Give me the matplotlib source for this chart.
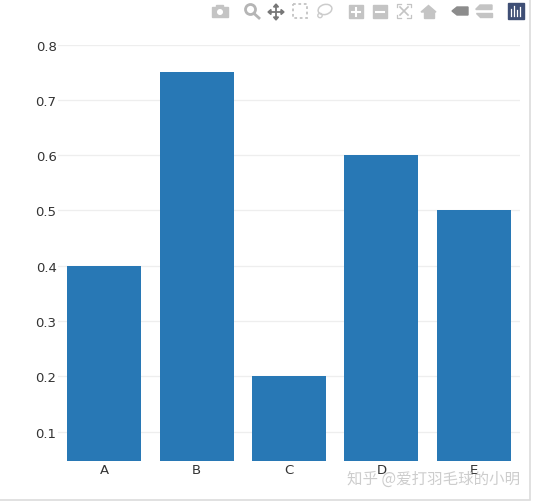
import matplotlib
matplotlib.use("Agg")
import matplotlib.pyplot as plt
from matplotlib.patches import Rectangle, Circle, Polygon, Ellipse
from matplotlib.lines import Line2D

categories = ["A", "B", "C", "D", "E"]
values = [0.4, 0.75, 0.2, 0.6, 0.5]
yticks = [0.1, 0.2, 0.3, 0.4, 0.5, 0.6, 0.7, 0.8]

W, H = 533, 502
plt.rcParams['font.family'] = ['Noto Sans CJK SC', 'DejaVu Sans']
fig = plt.figure(figsize=(W / 100, H / 100), dpi=100)
ax = fig.add_axes([58 / W, 1 - 461.6 / H, (520 - 58) / W, (461.6 - 45.6) / H])
ax.bar(categories, values, width=0.8, color="#2878b5", zorder=2)
ax.set_xlim(-0.5, 4.5)
ax.set_ylim(0.0476, 0.8)
ax.set_yticks(yticks)
ax.set_yticklabels([f"{v:.1f}" for v in yticks], family="DejaVu Sans", fontsize=9.5, color="#333333")
ax.set_xticks(range(len(categories)))
ax.set_xticklabels(categories, family="DejaVu Sans", fontsize=9.5, color="#333333")
ax.tick_params(axis="both", length=0)
ax.tick_params(axis="y", pad=1)
ax.tick_params(axis="x", pad=2)
ax.grid(axis="y", color="#eeeeee", linewidth=0.9, zorder=0)
for s in ax.spines.values():
    s.set_visible(False)

# screen-pixel overlay for the page furniture (toolbar, frame)
ov = fig.add_axes([0, 0, 1, 1], facecolor="none")
ov.set_xlim(0, W)
ov.set_ylim(H, 0)
ov.axis("off")
G = "#c4c4c4"
# frame
ov.add_line(Line2D([530, 530], [0, 500], color="#dcdcdc", lw=1.2))
ov.add_line(Line2D([0, 530], [500.5, 500.5], color="#dcdcdc", lw=1.2))
# camera
ov.add_patch(Rectangle((212, 8), 16, 10, color=G))
ov.add_patch(Rectangle((216, 6), 7, 3, color=G))
ov.add_patch(Circle((220, 13), 3, fc="white", ec="none"))
# zoom
ov.add_patch(Circle((250.5, 10.5), 5, fc="none", ec="#b5b5b5", lw=2))
ov.add_line(Line2D([254, 259], [14.5, 19], color="#b5b5b5", lw=2))
# pan
ov.add_line(Line2D([269, 283], [13, 13], color="#777777", lw=1.3))
ov.add_line(Line2D([276, 276], [6, 20], color="#777777", lw=1.3))
for p in ([[268, 13], [271, 10.5], [271, 15.5]], [[284, 13], [281, 10.5], [281, 15.5]],
          [[276, 5], [273.5, 8], [278.5, 8]], [[276, 21], [273.5, 18], [278.5, 18]]):
    ov.add_patch(Polygon(p, color="#777777"))
# box select / lasso
ov.add_patch(Rectangle((293, 5), 14, 14, fc="none", ec="#c4c4c4", lw=1.3, ls=(0, (1.5, 1.5))))
ov.add_patch(Ellipse((325, 10.5), 14, 10, angle=-15, fc="none", ec="#cccccc", lw=1.1))
ov.add_patch(Circle((320, 16.5), 2.2, fc="none", ec="#cccccc", lw=1))
# zoom in / out
ov.add_patch(Rectangle((349, 6), 14, 13, color=G))
ov.add_line(Line2D([352, 360], [12.5, 12.5], color="white", lw=1.5))
ov.add_line(Line2D([356, 356], [8.5, 16.5], color="white", lw=1.5))
ov.add_patch(Rectangle((373, 6), 14, 13, color=G))
ov.add_line(Line2D([376, 384], [12.5, 12.5], color="white", lw=1.5))
# autoscale: four corner brackets and an X
for pts in ([[397, 397, 401], [8, 5, 5]], [[407, 411, 411], [5, 5, 8]],
            [[397, 397, 401], [16, 19, 19]], [[407, 411, 411], [19, 19, 16]]):
    ov.add_line(Line2D(pts[0], pts[1], color="#c4c4c4", lw=0.9))
ov.add_line(Line2D([400, 408], [8, 16], color="#c4c4c4", lw=1.2))
ov.add_line(Line2D([400, 408], [16, 8], color="#c4c4c4", lw=1.2))
# home
ov.add_patch(Polygon([[421, 13], [428.5, 6.5], [436, 13]], color=G))
ov.add_patch(Rectangle((423.5, 13), 10, 5.5, color=G))
# spike / hover
ov.add_patch(Polygon([[452, 12], [457, 8], [468, 8], [468, 16], [457, 16]], color="#8c8c8c"))
ov.add_patch(Polygon([[476, 10], [480, 6], [492, 6], [492, 10.5], [476, 10.5]], color=G))
ov.add_patch(Polygon([[476, 14], [492, 14], [492, 18], [480, 18], [476, 14]], color=G))
# logo
ov.add_patch(Rectangle((508, 4), 16, 16, color="#3f4f75"))
for x, h in zip([511, 514, 517, 520], [7, 10, 6, 9]):
    ov.add_line(Line2D([x, x], [17, 17 - h], color="white", lw=0.9))
# watermark
ov.text(347, 479, "知乎 @爱打羽毛球的小明", fontsize=11.15, color="#cdcdcd", va="center", ha="left")

fig.savefig("out.png", dpi=100)
